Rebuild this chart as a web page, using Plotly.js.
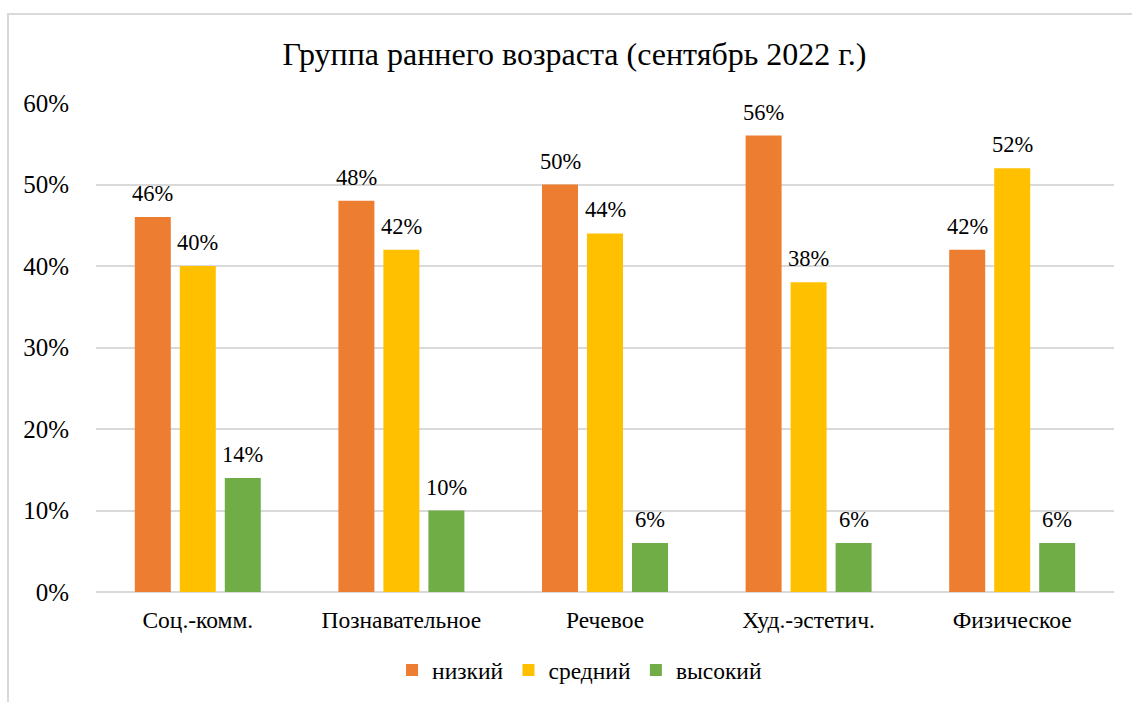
<!DOCTYPE html>
<html>
<head>
<meta charset="utf-8">
<script src="https://cdn.plot.ly/plotly-3.0.1.min.js"></script>
<style>
html,body{margin:0;padding:0;background:#fff;}
#frame{position:absolute;left:7px;top:13px;width:1200px;height:800px;border-left:2px solid #d9d9d9;border-top:2px solid #d9d9d9;}
#chart{position:absolute;left:0;top:0;width:1132px;height:702px;}
</style>
</head>
<body>
<div id="frame"></div>
<div id="chart"></div>
<script>
const categories = ['Соц.-комм.', 'Познавательное', 'Речевое', 'Худ.-эстетич.', 'Физическое'];
const seriesNames = ['низкий', 'средний', 'высокий'];
const lowValues = [46, 48, 50, 56, 42];
const midValues = [40, 42, 44, 38, 52];
const highValues = [14, 10, 6, 6, 6];
const colors = ['#ED7D31', '#FFC000', '#70AD47'];
const yTicks = [0, 10, 20, 30, 40, 50, 60];

const allValues = [lowValues, midValues, highValues];
const font = '"Liberation Serif", "Times New Roman", Tinos, serif';

const traces = allValues.map((vals, i) => ({
  type: 'bar',
  name: seriesNames[i],
  x: categories,
  y: vals,
  marker: {color: colors[i]},
  hoverinfo: 'x+y'
}));

const pitch = 45;
const annotations = [];
allValues.forEach((vals, i) => {
  vals.forEach((v, j) => {
    annotations.push({
      x: categories[j], y: v, xref: 'x', yref: 'y',
      text: v + '%', showarrow: false,
      xanchor: 'center', yanchor: 'bottom',
      xshift: (i - 1) * pitch, yshift: 9,
      font: {family: font, size: 22.5, color: '#000'}
    });
  });
});

const layout = {
  width: 1132, height: 702,
  paper_bgcolor: 'rgba(0,0,0,0)',
  plot_bgcolor: 'rgba(0,0,0,0)',
  margin: {l: 96, r: 18, t: 103, b: 110, autoexpand: false},
  font: {family: font},
  title: {text: 'Группа раннего возраста (сентябрь 2022 г.)', x: 0.5075, xanchor: 'center', y: 0.924, yanchor: 'middle',
          font: {family: font, size: 32, color: '#000'}},
  barmode: 'group',
  bargap: 0.337,
  bargroupgap: 0.2,
  showlegend: true,
  legend: {orientation: 'h', x: 0.475, xanchor: 'center', y: -0.16, yanchor: 'middle',
           font: {family: font, size: 23.5, color: '#000'}, itemwidth: 30, traceorder: 'normal'},
  xaxis: {type: 'category', tickfont: {family: font, size: 23.5, color: '#000'}, showgrid: false,
          showline: false, ticks: '', ticklabelstandoff: 11},
  yaxis: {range: [0, 60], tickvals: yTicks, ticktext: yTicks.map(t => t + '%'),
          tickfont: {family: font, size: 25, color: '#000'}, showgrid: true, gridcolor: '#d9d9d9', gridwidth: 2,
          zeroline: true, zerolinecolor: '#d9d9d9', zerolinewidth: 2, showline: false, ticks: '', ticklabelstandoff: 26},
  annotations: annotations
};

Plotly.newPlot('chart', traces, layout, {displayModeBar: false, staticPlot: true});
</script>
</body>
</html>
